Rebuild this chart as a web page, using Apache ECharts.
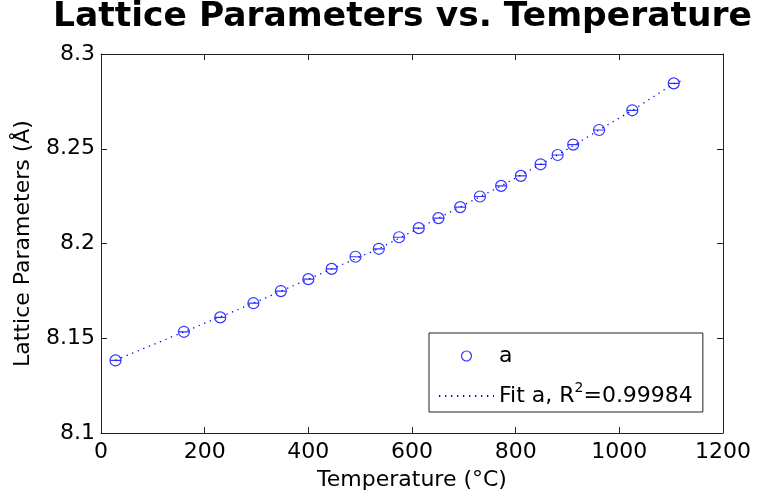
<!DOCTYPE html>
<html>
<head>
<meta charset="utf-8">
<script src="https://cdn.jsdelivr.net/npm/echarts@6/dist/echarts.min.js"></script>
<style>
  html, body { margin: 0; padding: 0; background: #fff; }
  #main { width: 769px; height: 501px; }
</style>
</head>
<body>
<div id="main"></div>
<script>
// measured points (temperature in C, lattice parameter a in angstrom)
var temps = [28, 160, 230, 294, 347, 400, 445, 491, 536, 575, 613, 651, 693, 731, 772, 810, 848, 881, 911, 961, 1025, 1105]
var aVals = [8.1383, 8.1534, 8.1610, 8.1685, 8.1749, 8.1812, 8.1866, 8.1930, 8.1972, 8.2033, 8.2081, 8.2134, 8.2192, 8.2248, 8.2304, 8.2357, 8.2418, 8.2467, 8.2522, 8.2599, 8.2703, 8.2845]
// dotted fit line
var fitT = [28, 160, 294, 400, 536, 651, 772, 881, 961, 1025, 1105, 1125]
var fitA = [8.1384, 8.1534, 8.1685, 8.1812, 8.1973, 8.2134, 8.2304, 8.2467, 8.2599, 8.2703, 8.2843, 8.2864]
var rSquared = '0.99984'
var xTicks = {min: 0, max: 1200, step: 200}
var yTicks = {min: 8.1, max: 8.3, step: 0.05}

var FONT = 'DejaVu Sans'
var BLUE = '#0000ff'
var AXIS = '#222222'

function pairs(xs, ys){
    var out = []
    xs.forEach(function(v, i){ out.push([v, ys[i]]) })
    return out
}

function frameAxis(pos, t, labels){
    return {
        type: 'value',
        position: pos,
        min: t.min, max: t.max, interval: t.step,
        axisLine: {show: true, onZero: false, lineStyle: {color: AXIS, width: 1}},
        axisTick: {show: true, inside: true, length: 6, lineStyle: {color: AXIS}},
        splitLine: {show: false},
        axisLabel: labels ? {
            show: true, color: '#000', fontFamily: FONT, fontSize: 22,
            margin: pos === 'bottom' ? 8 : 6,
            formatter: function(v){ return String(+v.toFixed(2)) }
        } : {show: false}
    }
}

var chart = echarts.init(document.getElementById('main'))

var xBottom = frameAxis('bottom', xTicks, true)
xBottom.name = 'Temperature (°C)'
xBottom.nameLocation = 'middle'
xBottom.nameGap = 36
xBottom.nameTextStyle = {color: '#000', fontFamily: FONT, fontSize: 22}

var yLeft = frameAxis('left', yTicks, true)
yLeft.name = 'Lattice Parameters (Å)'
yLeft.nameLocation = 'middle'
yLeft.nameGap = 67
yLeft.nameTextStyle = {color: '#000', fontFamily: FONT, fontSize: 22}

chart.setOption({
    backgroundColor: '#fff',
    animation: false,
    title: {
        text: 'Lattice Parameters vs. Temperature',
        left: 53, top: 0, padding: 0,
        textStyle: {color: '#000', fontFamily: FONT, fontWeight: 'bold', fontSize: 34.5}
    },
    grid: {left: 101, right: 46, top: 54, bottom: 68},
    xAxis: [xBottom, frameAxis('top', xTicks, false)],
    yAxis: [yLeft, frameAxis('right', yTicks, false)],
    legend: {
        orient: 'vertical',
        left: 429, top: 333,
        padding: [12, 10, 1, 9],
        itemGap: 14,
        itemWidth: 55,
        itemHeight: 10,
        backgroundColor: '#fff',
        borderColor: AXIS,
        borderWidth: 1,
        data: [
            {name: 'a', icon: 'circle', itemStyle: {color: '#fff', borderColor: BLUE, borderWidth: 1.2}},
            {name: 'Fit a', itemStyle: {opacity: 0}}
        ],
        formatter: function(name){
            if (name === 'Fit a') return 'Fit a, R{sup|2}=' + rSquared
            return name
        },
        textStyle: {
            color: '#000', fontFamily: FONT, fontSize: 22, lineHeight: 22,
            rich: {sup: {fontFamily: FONT, fontSize: 14, lineHeight: 30, verticalAlign: 'top', color: '#000'}}
        }
    },
    series: [
        {
            name: 'Fit a',
            type: 'line',
            data: pairs(fitT, fitA),
            showSymbol: false,
            symbol: 'none',
            z: 2,
            lineStyle: {color: BLUE, width: 1.3, type: [1.3, 4.7]},
            itemStyle: {color: BLUE}
        },
        {
            name: 'a',
            type: 'scatter',
            data: pairs(temps, aVals),
            symbol: 'path://M1,6 A5,5 0 1 1 11,6 A5,5 0 1 1 1,6 Z M1,6 L11,6',
            symbolSize: 11,
            z: 3,
            itemStyle: {color: 'transparent', borderColor: BLUE, borderWidth: 1.2}
        }
    ]
})
</script>
</body>
</html>
